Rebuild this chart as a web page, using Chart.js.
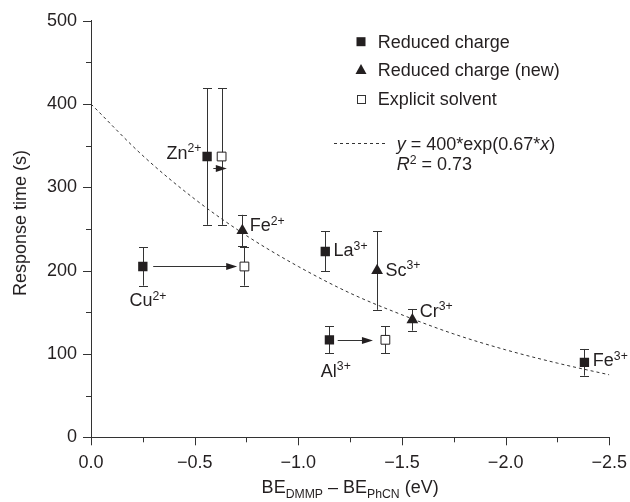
<!DOCTYPE html>
<html><head><meta charset="utf-8">
<script src="https://cdn.jsdelivr.net/npm/chart.js@4/dist/chart.umd.min.js"></script>
<style>html,body{margin:0;padding:0;background:#fff}#wrap{width:630px;height:502px}</style>
</head><body><div id="wrap"><canvas id="c" width="630" height="502"></canvas></div>
<script>
// ---- data ----
const reducedX = [-0.25, -0.56, -1.13, -1.15, -2.38];
const reducedY = [205, 337, 223, 117, 90];
const reducedErr = [23, 82, 24, 16, 16];
const reducedNames = ['Cu', 'Zn', 'La', 'Al', 'Fe'];
const reducedCharges = ['2+', '2+', '3+', '3+', '3+'];

const newX = [-0.73, -1.38, -1.55];
const newY = [248, 200, 141];
const newErr = [19, 47, 13];
const newNames = ['Fe', 'Sc', 'Cr'];
const newCharges = ['2+', '3+', '3+'];

const solventX = [-0.63, -0.74, -1.42];
const solventY = [337, 205, 117];
const solventErr = [82, 23, 16];

const fitX = [0, -0.25, -0.5, -0.75, -1.0, -1.25, -1.5, -1.75, -2.0, -2.25, -2.5];
const fitY = [400, 338, 286, 242, 205, 173, 147, 124, 105, 89, 75];

const arrowFromX = [-0.30, -0.59, -1.19];
const arrowToX = [-0.705, -0.655, -1.36];
const arrowY = [205, 323, 117];

const legendLabels = ['Reduced charge', 'Reduced charge (new)', 'Explicit solvent'];
const yTitle = 'Response time (s)';

// ---- helpers ----
const INK = '#231f20';
const FONT = '"Liberation Sans", Arial, Helvetica, sans-serif';
function pts(xs, ys) { return xs.map((x, i) => ({ x: x, y: ys[i] })); }
function rich(ctx, x, y, parts, size) {
  let cx = x;
  ctx.textBaseline = 'alphabetic';
  ctx.textAlign = 'left';
  for (const p of parts) {
    let fs = size, dy = 0, st = '';
    if (p.s === 'sup') { fs = size * 0.68; dy = -size * 0.36; }
    if (p.s === 'sub') { fs = size * 0.68; dy = size * 0.28; }
    if (p.s === 'i') { st = 'italic '; }
    ctx.font = st + fs + 'px ' + FONT;
    ctx.fillText(p.t, cx, y + dy);
    cx += ctx.measureText(p.t).width;
  }
  return cx - x;
}
function richWidth(ctx, parts, size) {
  let w = 0;
  for (const p of parts) {
    let fs = size, st = '';
    if (p.s === 'sup' || p.s === 'sub') fs = size * 0.68;
    if (p.s === 'i') st = 'italic ';
    ctx.font = st + fs + 'px ' + FONT;
    w += ctx.measureText(p.t).width;
  }
  return w;
}

const extras = {
  id: 'extras',
  beforeDatasetsDraw(chart) {
    const ctx = chart.ctx, xs = chart.scales.x, ys = chart.scales.y;
    ctx.save();
    ctx.strokeStyle = '#333';
    ctx.lineWidth = 1;
    const bars = [[reducedX, reducedY, reducedErr], [newX, newY, newErr], [solventX, solventY, solventErr]];
    for (const [X, Y, E] of bars) {
      X.forEach((x, i) => {
        const px = Math.round(xs.getPixelForValue(x)) + 0.5;
        const top = ys.getPixelForValue(Y[i] + E[i]);
        const bot = ys.getPixelForValue(Y[i] - E[i]);
        ctx.beginPath();
        ctx.moveTo(px, top); ctx.lineTo(px, bot);
        ctx.moveTo(px - 4.5, Math.round(top) + 0.5); ctx.lineTo(px + 4.5, Math.round(top) + 0.5);
        ctx.moveTo(px - 4.5, Math.round(bot) + 0.5); ctx.lineTo(px + 4.5, Math.round(bot) + 0.5);
        ctx.stroke();
      });
    }
    // arrows
    ctx.fillStyle = INK;
    arrowFromX.forEach((x0, i) => {
      const a = xs.getPixelForValue(x0), b = xs.getPixelForValue(arrowToX[i]);
      const py = Math.round(ys.getPixelForValue(arrowY[i])) + 0.5;
      ctx.beginPath(); ctx.moveTo(a, py); ctx.lineTo(b - 9, py); ctx.stroke();
      ctx.beginPath(); ctx.moveTo(b, py); ctx.lineTo(b - 11, py - 3.5); ctx.lineTo(b - 11, py + 3.5); ctx.closePath(); ctx.fill();
    });
    ctx.restore();
  },
  afterDraw(chart) {
    const ctx = chart.ctx, xs = chart.scales.x, ys = chart.scales.y, ca = chart.chartArea;
    ctx.save();
    ctx.strokeStyle = '#333';
    ctx.lineWidth = 1;
    // tick marks
    ctx.beginPath();
    for (let k = 0; k <= 10; k++) {
      const v = -0.25 * k;
      const px = Math.round(xs.getPixelForValue(v)) + 0.5;
      const len = k % 2 === 0 ? 8 : 5;
      ctx.moveTo(px, ca.bottom); ctx.lineTo(px, ca.bottom + len);
    }
    for (let k = 0; k <= 10; k++) {
      const v = 50 * k;
      const py = Math.round(ys.getPixelForValue(v)) + 0.5;
      const len = k % 2 === 0 ? 8 : 5;
      ctx.moveTo(ca.left, py); ctx.lineTo(ca.left - len, py);
    }
    ctx.stroke();

    ctx.fillStyle = INK;
    const S = 18;
    // point labels
    const off1 = [[-13.4, 40], [-40.6, 2.3], [8.3, 5], [-8.6, 36.7], [8.4, 3.7]];
    reducedX.forEach((x, i) => {
      const px = xs.getPixelForValue(x), py = ys.getPixelForValue(reducedY[i]);
      rich(ctx, px + off1[i][0], py + off1[i][1], [{ t: reducedNames[i] }, { t: reducedCharges[i], s: 'sup' }], S);
    });
    const off2 = [[7.3, 0.7], [8.3, 5], [7.3, -3.3]];
    newX.forEach((x, i) => {
      const px = xs.getPixelForValue(x), py = ys.getPixelForValue(newY[i]);
      rich(ctx, px + off2[i][0], py + off2[i][1], [{ t: newNames[i] }, { t: newCharges[i], s: 'sup' }], S);
    });

    // legend
    const lx = 361, ly = [41.7, 70, 99];
    ctx.fillRect(lx - 4.5, ly[0] - 4.5, 9, 9);
    ctx.beginPath(); ctx.moveTo(lx, ly[1] - 6); ctx.lineTo(lx + 5.5, ly[1] + 4); ctx.lineTo(lx - 5.5, ly[1] + 4); ctx.closePath(); ctx.fill();
    ctx.strokeRect(lx - 3.5, ly[2] - 3.5, 8, 8);
    ctx.font = S + 'px ' + FONT;
    ctx.textBaseline = 'middle';
    legendLabels.forEach((t, i) => ctx.fillText(t, 377.7, ly[i] + 1));
    // fit legend
    ctx.setLineDash([3, 3]);
    ctx.beginPath(); ctx.moveTo(334, 143.5); ctx.lineTo(387, 143.5); ctx.stroke();
    ctx.setLineDash([]);
    rich(ctx, 396.7, 150, [{ t: 'y', s: 'i' }, { t: ' = 400*exp(0.67*' }, { t: 'x', s: 'i' }, { t: ')' }], S);
    rich(ctx, 396.7, 170, [{ t: 'R', s: 'i' }, { t: '2', s: 'sup' }, { t: ' = 0.73' }], S);

    // axis titles
    const xt = [{ t: 'BE' }, { t: 'DMMP', s: 'sub' }, { t: ' \u2013 BE' }, { t: 'PhCN', s: 'sub' }, { t: ' (eV)' }];
    const w = richWidth(ctx, xt, S);
    rich(ctx, (ca.left + ca.right) / 2 - w / 2, 493, xt, S);
    ctx.translate(25.5, (ca.top + ca.bottom) / 2 - 6);
    ctx.rotate(-Math.PI / 2);
    ctx.font = S + 'px ' + FONT;
    ctx.textAlign = 'center';
    ctx.textBaseline = 'alphabetic';
    ctx.fillText(yTitle, 0, 0);
    ctx.restore();
  }
};

new Chart(document.getElementById('c'), {
  type: 'scatter',
  data: {
    datasets: [
      { label: legendLabels[0], data: pts(reducedX, reducedY), pointStyle: 'rect', pointRadius: 6.6, backgroundColor: INK, borderColor: INK, borderWidth: 0, order: 1 },
      { label: legendLabels[1], data: pts(newX, newY), pointStyle: 'triangle', pointRadius: 6.8, backgroundColor: INK, borderColor: INK, borderWidth: 0, order: 1 },
      { label: legendLabels[2], data: pts(solventX, solventY), pointStyle: 'rect', pointRadius: 6.2, backgroundColor: '#fff', borderColor: INK, borderWidth: 1, order: 1 },
      { label: 'fit', type: 'line', data: pts(fitX, fitY), showLine: true, pointRadius: 0, borderColor: '#333', borderWidth: 1, borderDash: [3, 3], cubicInterpolationMode: 'monotone', fill: false, order: 10 }
    ]
  },
  options: {
    responsive: false,
    animation: false,
    devicePixelRatio: 1,
    layout: { padding: { top: 20.7, right: 20.7, bottom: 0, left: 0 } },
    plugins: { legend: { display: false }, tooltip: { enabled: false } },
    scales: {
      x: {
        type: 'linear', min: -2.5, max: 0, reverse: true,
        grid: { display: false, drawTicks: false },
        border: { display: true, color: '#333', width: 1 },
        ticks: { stepSize: 0.5, autoSkip: false, maxRotation: 0, padding: 15, color: INK, font: { size: 18, family: FONT },
          callback: v => (Math.abs(v) < 1e-9 ? '0.0' : '\u2212' + Math.abs(v).toFixed(1)) },
        afterFit: s => { s.height = 64.7; s.paddingLeft = 0; s.paddingRight = 0; }
      },
      y: {
        type: 'linear', min: 0, max: 500,
        grid: { display: false, drawTicks: false },
        border: { display: true, color: '#333', width: 1 },
        ticks: { stepSize: 100, autoSkip: false, padding: 14, color: INK, font: { size: 18, family: FONT } },
        afterFit: s => { s.width = 91; s.paddingTop = 0; s.paddingBottom = 0; }
      }
    }
  },
  plugins: [extras]
});
</script>
</body></html>
